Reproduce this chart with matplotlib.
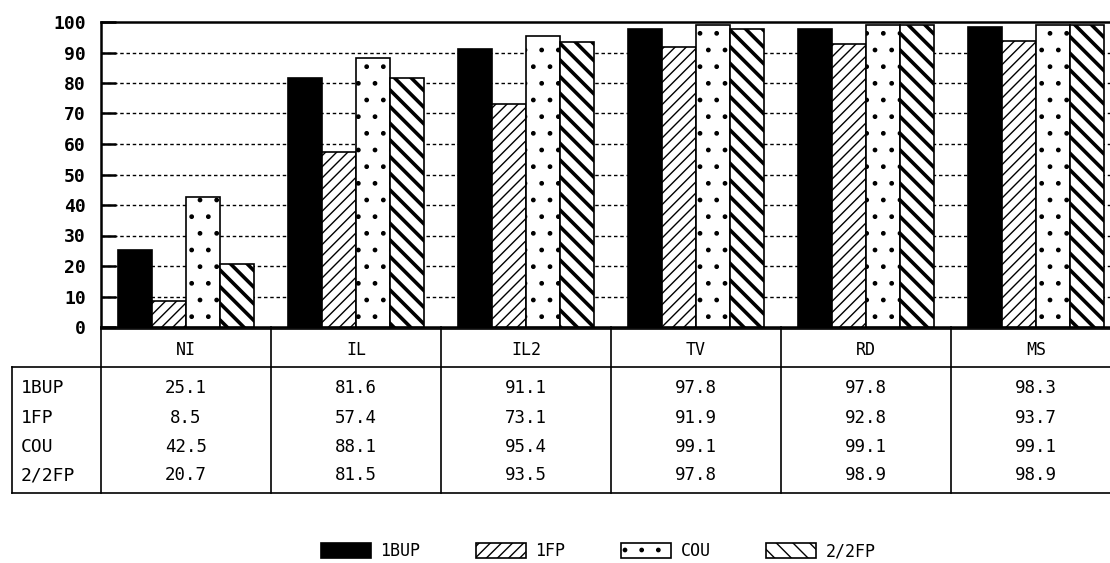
import matplotlib
matplotlib.use("Agg")
import matplotlib.pyplot as plt
from matplotlib.lines import Line2D
import matplotlib.transforms as mtransforms
import numpy as np

categories = ["NI", "IL", "IL2", "TV", "RD", "MS"]
series_names = ["1BUP", "1FP", "COU", "2/2FP"]
bup = [25.1, 81.6, 91.1, 97.8, 97.8, 98.3]
fp = [8.5, 57.4, 73.1, 91.9, 92.8, 93.7]
cou = [42.5, 88.1, 95.4, 99.1, 99.1, 99.1]
fp22 = [20.7, 81.5, 93.5, 97.8, 98.9, 98.9]
yticks = [0, 10, 20, 30, 40, 50, 60, 70, 80, 90, 100]

series = [bup, fp, cou, fp22]
colors = ["black", "white", "white", "white"]
hatches = [None, "///", ".", "\\\\"]
hatch_lw = [1.0, 1.0, 1.0, 2.6]

W, H = 1110, 563
fig = plt.figure(figsize=(W / 100, H / 100), dpi=100)
mono = "DejaVu Sans Mono"
plt.rcParams["font.family"] = mono

def fx(p):
    return p / W

def fy(p):
    return 1 - p / H

ax_left, ax_right, ax_top, ax_bot = 101, 1121, 22, 327
ax = fig.add_axes([fx(ax_left), fy(ax_bot), fx(ax_right - ax_left), fy(ax_top) - fy(ax_bot)])

x = np.arange(len(categories))
bw = 0.2
offsets = [-0.3, -0.1, 0.1, 0.3]
handles = []
for vals, c, h, off, name, hl in zip(series, colors, hatches, offsets, series_names, hatch_lw):
    bars = ax.bar(x + off, vals, bw, color=c, edgecolor="black", hatch=h, linewidth=1.2,
                  label=name, zorder=3)
    for b in bars:
        if hasattr(b, "set_hatch_linewidth"):
            b.set_hatch_linewidth(hl)
    handles.append(bars)

ax.set_xlim(-0.5, len(categories) - 0.5)
ax.set_ylim(0, 100)
ax.set_yticks(yticks)
ax.set_yticklabels([str(t) for t in yticks], fontsize=13, fontweight="bold", family=mono)
ax.set_xticks([])
ax.tick_params(axis="y", direction="in", length=11, width=1.8, pad=11)
for t in ax.yaxis.get_major_ticks():
    t.tick2line.set_visible(False)
for gy in yticks[1:-1]:
    ax.axhline(gy, color="black", linestyle=(0, (2.5, 2)), linewidth=1.0, zorder=1)
for s in ax.spines.values():
    s.set_linewidth(1.8)

# Table
trans = mtransforms.blended_transform_factory(ax.transData, fig.transFigure)
xl = -0.5
xr = len(categories) - 0.5

def hline(ypix, x0=None, x0pix=None):
    if x0pix is not None:
        l = Line2D([fx(x0pix), 1.02], [fy(ypix), fy(ypix)], transform=fig.transFigure,
                   color="black", linewidth=1.2)
    else:
        l = Line2D([x0, xr], [fy(ypix), fy(ypix)], transform=trans, color="black", linewidth=1.2)
    l.set_clip_on(False)
    fig.add_artist(l)

def vline_data(xd, y0, y1):
    l = Line2D([xd, xd], [fy(y0), fy(y1)], transform=trans, color="black", linewidth=1.2)
    l.set_clip_on(False)
    fig.add_artist(l)

hline(329, x0=xl)
hline(367, x0pix=12)
hline(493, x0pix=12)
l = Line2D([fx(12), fx(12)], [fy(367), fy(493)], transform=fig.transFigure, color="black", linewidth=1.2)
fig.add_artist(l)
for i in range(len(categories) + 1):
    vline_data(i - 0.5, 327, 493)

for i, c in enumerate(categories):
    fig.text(i, fy(350), c, transform=trans, ha="center", va="center", fontsize=12, family=mono)

row_y = [388, 418, 447, 475]
for r, (name, vals) in enumerate(zip(series_names, series)):
    fig.text(fx(21), fy(row_y[r]), name, ha="left", va="center", fontsize=13, family=mono)
    for i, v in enumerate(vals):
        fig.text(i, fy(row_y[r]), f"{v:.1f}", transform=trans, ha="center", va="center",
                 fontsize=12.5, family=mono)

leg = fig.legend(handles=handles, labels=series_names, loc="center",
                 bbox_to_anchor=(fx(598), fy(551)), ncol=4, frameon=False,
                 handlelength=3.0, handleheight=1.0, handletextpad=0.6,
                 columnspacing=3.3, borderaxespad=0, prop={"family": mono, "size": 12})

fig.savefig("out.png", dpi=100)
